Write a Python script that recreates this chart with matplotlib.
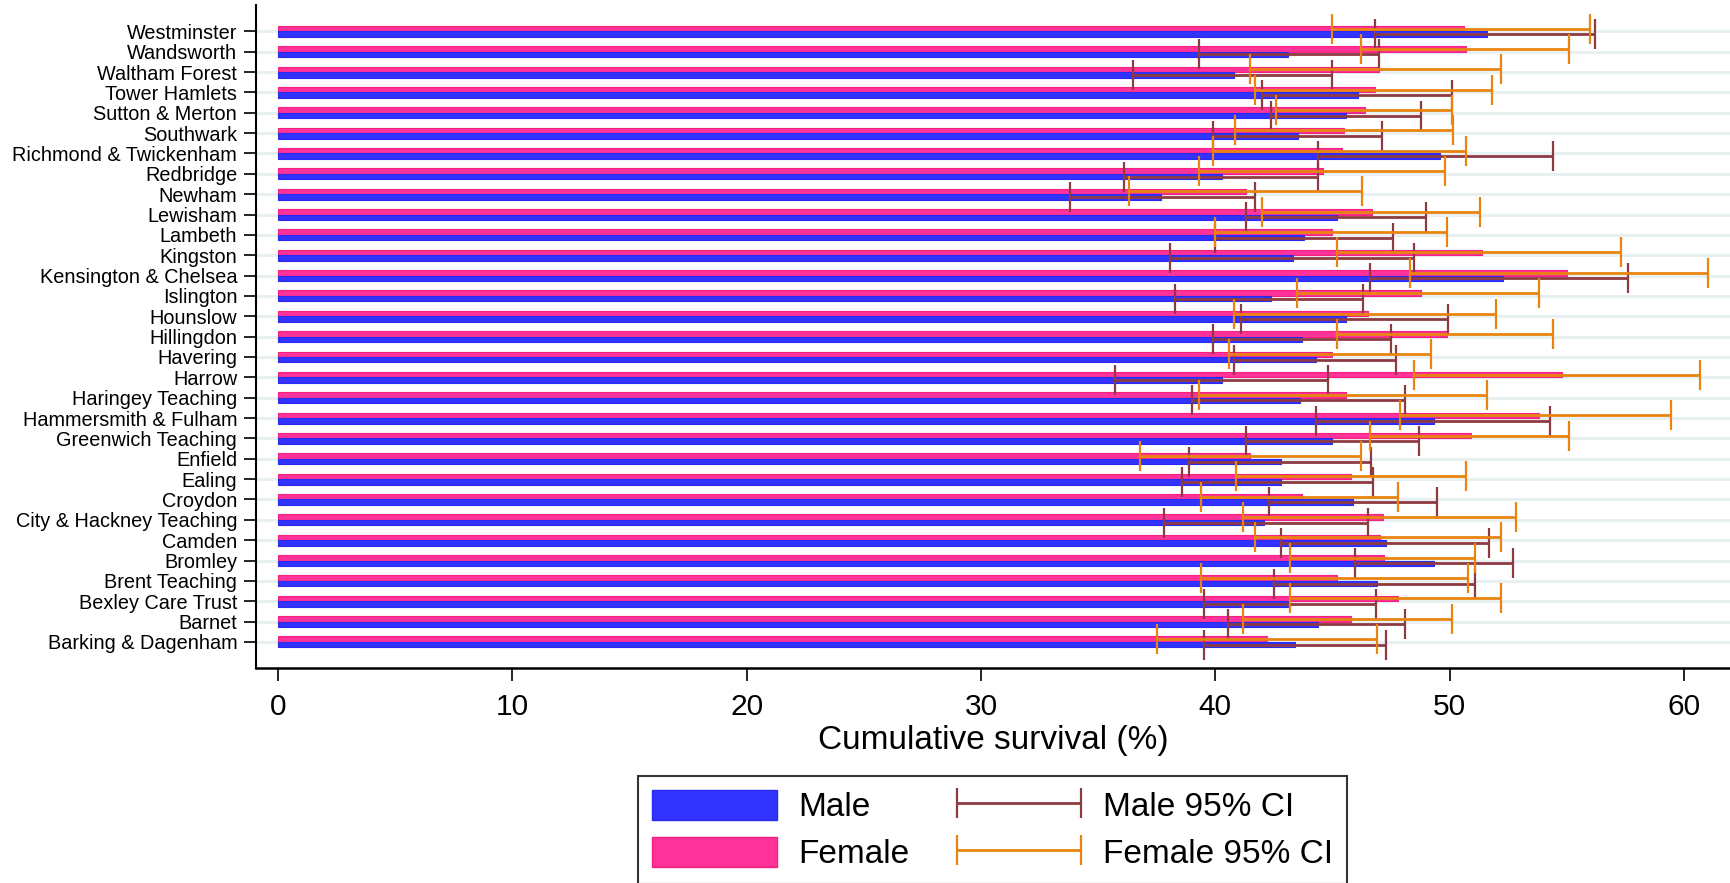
import numpy as np
import matplotlib
matplotlib.use("Agg")
import matplotlib.pyplot as plt
from matplotlib.patches import Patch
from matplotlib.legend_handler import HandlerErrorbar

plt.rcParams['font.family'] = ['Liberation Sans', 'DejaVu Sans']

# categories bottom -> top
trusts = ['Barking & Dagenham', 'Barnet', 'Bexley Care Trust', 'Brent Teaching', 'Bromley',
          'Camden', 'City & Hackney Teaching', 'Croydon', 'Ealing', 'Enfield',
          'Greenwich Teaching', 'Hammersmith & Fulham', 'Haringey Teaching', 'Harrow',
          'Havering', 'Hillingdon', 'Hounslow', 'Islington', 'Kensington & Chelsea',
          'Kingston', 'Lambeth', 'Lewisham', 'Newham', 'Redbridge', 'Richmond & Twickenham',
          'Southwark', 'Sutton & Merton', 'Tower Hamlets', 'Waltham Forest', 'Wandsworth',
          'Westminster']

male = [43.4, 44.4, 43.2, 46.9, 49.35, 47.3, 42.1, 45.9, 42.8, 42.8, 45.0, 49.35, 43.6, 40.3,
        44.3, 43.7, 45.6, 42.4, 52.3, 43.3, 43.8, 45.2, 37.7, 40.3, 49.6, 43.55, 45.6, 46.1,
        40.8, 43.1, 51.6]
male_lo = [39.5, 40.55, 39.5, 42.5, 45.95, 42.8, 37.8, 42.3, 38.6, 38.9, 41.3, 44.3, 39.0, 35.7,
           40.8, 39.9, 41.1, 38.3, 46.6, 38.05, 40.0, 41.3, 33.8, 36.1, 44.4, 39.9, 42.4, 42.0,
           36.5, 39.3, 46.8]
male_hi = [47.3, 48.1, 46.85, 51.1, 52.7, 51.7, 46.5, 49.45, 46.75, 46.65, 48.7, 54.3, 48.1, 44.8,
           47.7, 47.5, 49.95, 46.3, 57.6, 48.5, 47.6, 49.0, 41.7, 44.4, 54.4, 47.1, 48.8, 50.1,
           45.0, 47.0, 56.2]
female = [42.2, 45.8, 47.8, 45.2, 47.2, 47.05, 47.15, 43.7, 45.8, 41.5, 50.9, 53.8, 45.6, 54.8,
          45.0, 49.9, 46.5, 48.8, 55.0, 51.4, 45.0, 46.7, 41.3, 44.6, 45.4, 45.5, 46.4, 46.8,
          47.0, 50.7, 50.6]
female_lo = [37.5, 41.2, 43.2, 39.4, 43.2, 41.7, 41.2, 39.4, 40.9, 36.8, 46.6, 47.9, 39.3, 48.5,
             40.6, 45.2, 40.8, 43.5, 48.3, 45.2, 40.0, 42.0, 36.3, 39.3, 39.9, 40.85, 42.6, 41.7,
             41.5, 46.2, 45.0]
female_hi = [46.9, 50.1, 52.2, 50.8, 51.1, 52.2, 52.85, 47.8, 50.7, 46.2, 55.1, 59.45, 51.6, 60.7,
             49.2, 54.4, 52.0, 53.8, 61.05, 57.3, 49.9, 51.3, 46.25, 49.8, 50.7, 50.15, 50.1, 51.8,
             52.2, 55.1, 56.0]

blue = '#3333FF'
pink = '#FF3399'
maroon = '#8E3A42'
orange = '#E8840F'

fig = plt.figure(figsize=(17.3, 8.83), dpi=100)
ax = fig.add_axes([0.148, 0.2435, 0.852, 0.7505])

pos = np.arange(len(trusts))
h = 0.27

for p in pos:
    ax.axhline(p, color='#E8F0F2', lw=2.2, zorder=0)

ax.barh(pos + h / 2, female, height=h, color=pink, edgecolor='#F5207F', lw=0.8, zorder=2)
ax.barh(pos - h / 2, male, height=h, color=blue, edgecolor='#2A2AF0', lw=0.8, zorder=2)

mlo = np.array(male_lo)
mhi = np.array(male_hi)
flo = np.array(female_lo)
fhi = np.array(female_hi)
eb_m = ax.errorbar((mlo + mhi) / 2, pos - h / 2, xerr=(mhi - mlo) / 2, fmt='none',
                   ecolor=maroon, elinewidth=2, capsize=10.5, capthick=1.6, zorder=3)
eb_f = ax.errorbar((flo + fhi) / 2, pos + h / 2, xerr=(fhi - flo) / 2, fmt='none',
                   ecolor=orange, elinewidth=2, capsize=10.5, capthick=1.6, zorder=4)

ax.set_xlim(-0.94, 61.97)
ax.set_ylim(-1.28, 31.28)
ax.set_yticks(pos)
ax.set_yticklabels(trusts, fontsize=14.3)
ax.set_xticks([0, 10, 20, 30, 40, 50, 60])
ax.tick_params(axis='y', length=8.6, width=1.2, pad=5)
ax.tick_params(axis='x', length=9, width=1.2, pad=9, labelsize=21.5)
ax.set_xlabel('Cumulative survival (%)', fontsize=24, labelpad=3)

for s in ['top', 'right']:
    ax.spines[s].set_visible(False)
ax.spines['left'].set_linewidth(1.5)
ax.spines['bottom'].set_linewidth(1.8)

handles = [Patch(facecolor=blue, edgecolor='#2A2AF0'), Patch(facecolor=pink, edgecolor='#F5207F'),
           eb_m, eb_f]
labels = ['Male', 'Female', 'Male 95% CI', 'Female 95% CI']
ci_handler = HandlerErrorbar(xerr_size=1.85)
leg = fig.legend(handles, labels, ncol=2, loc='upper center', bbox_to_anchor=(0.5737, 0.121),
                 fontsize=24, frameon=True, fancybox=False, edgecolor='black',
                 handlelength=3.75, handleheight=1.0, handletextpad=0.63, borderpad=0.42,
                 columnspacing=1.41, labelspacing=0.4, borderaxespad=0,
                 handler_map={eb_m: ci_handler, eb_f: ci_handler})
leg.get_frame().set_linewidth(1.5)

fig.savefig('out.png', dpi=100)
